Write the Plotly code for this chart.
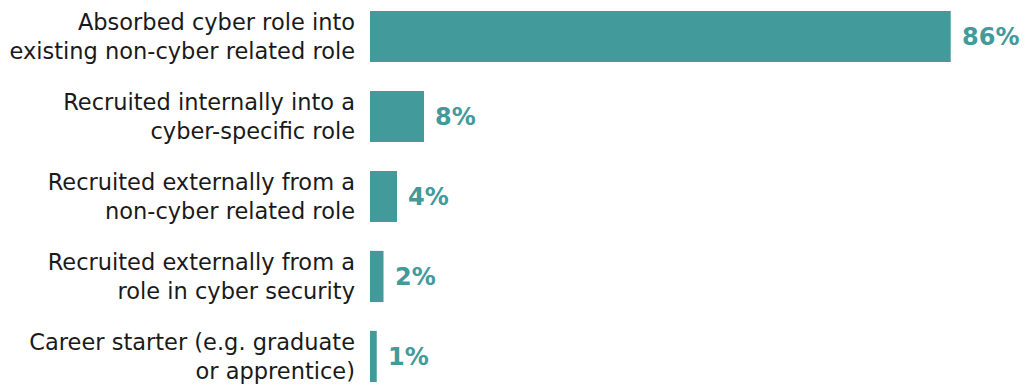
import plotly.graph_objects as go

categories = [
    "Absorbed cyber role into<br>existing non-cyber related role",
    "Recruited internally into a<br>cyber-specific role",
    "Recruited externally from a<br>non-cyber related role",
    "Recruited externally from a<br>role in cyber security",
    "Career starter (e.g. graduate<br>or apprentice)",
]
values = [86, 8, 4, 2, 1]
value_labels = ["86%", "8%", "4%", "2%", "1%"]

TEAL = "#429a9a"

fig = go.Figure(
    go.Bar(
        x=values,
        y=categories,
        orientation="h",
        marker=dict(color=TEAL, line=dict(width=0)),
        width=0.64,
        hoverinfo="skip",
    )
)

for cat, val, lab in zip(categories, values, value_labels):
    fig.add_annotation(
        x=val, y=cat, text=lab, showarrow=False,
        xanchor="left", yanchor="middle", xshift=9, yshift=-1,
        font=dict(family="DejaVu Sans, sans-serif", size=24,
                  color=TEAL, weight=900),
    )

fig.update_layout(
    width=1025, height=388,
    margin=dict(l=370, r=0, t=0, b=0),
    paper_bgcolor="white", plot_bgcolor="white",
    showlegend=False,
    xaxis=dict(range=[0, 97], visible=False, fixedrange=True),
    yaxis=dict(
        range=[4.394, -0.456],
        showgrid=False, zeroline=False, showline=False, ticks="",
        ticklabelstandoff=14,
        tickfont=dict(family="DejaVu Sans, sans-serif", size=22.5,
                      color="#1a1a1a"),
    ),
)

fig.write_html("out.html")
